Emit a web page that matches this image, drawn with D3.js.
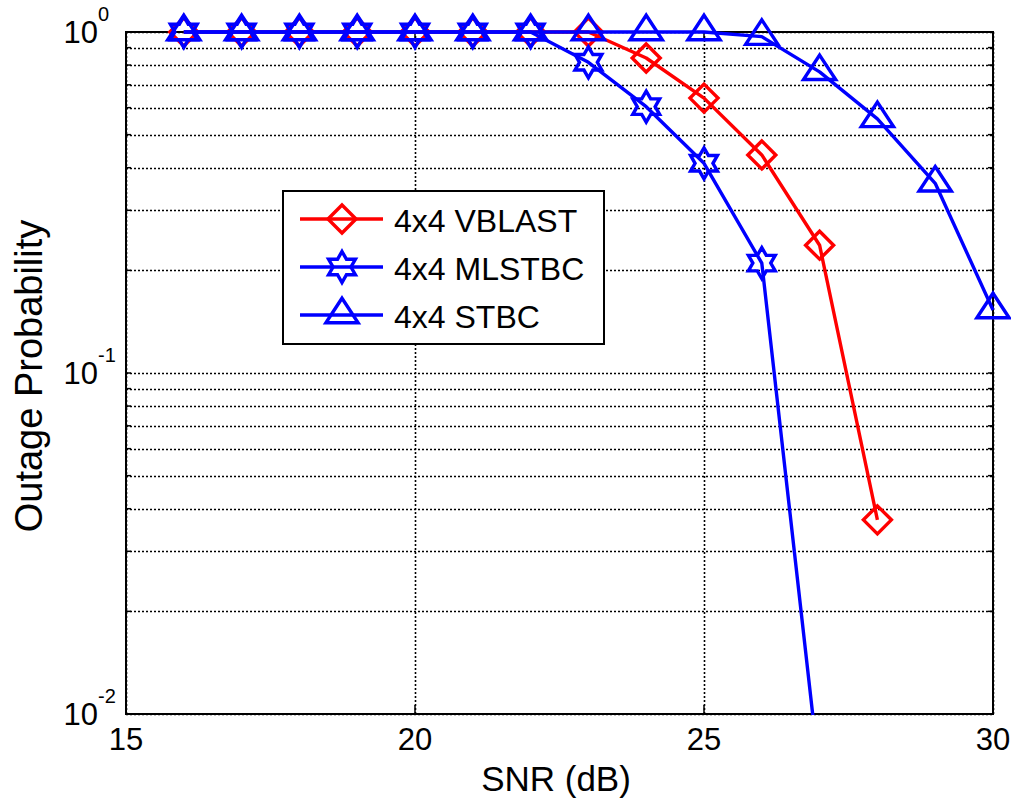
<!DOCTYPE html>
<html>
<head>
<meta charset="utf-8">
<script src="https://cdn.jsdelivr.net/npm/d3@7"></script>
<style>
  body { margin: 0; background: #fff; }
  text { font-family: "Liberation Sans", Arial, sans-serif; fill: #000; }
</style>
</head>
<body>
<script>
// values
var snrVblast = [16, 17, 18, 19, 20, 21, 22, 23, 24, 25, 26, 27, 28];
var vblast    = [1, 1, 1, 1, 1, 1, 1, 1, 0.839, 0.64, 0.436, 0.237, 0.0371];
var snrMlstbc = [16, 17, 18, 19, 20, 21, 22, 23, 24, 25, 26, 27];
var mlstbc    = [1, 1, 1, 1, 1, 1, 1, 0.815, 0.604, 0.412, 0.21, 0.0066];
var snrStbc   = [16, 17, 18, 19, 20, 21, 22, 23, 24, 25, 26, 27, 28, 29, 30];
var stbc      = [1, 1, 1, 1, 1, 1, 1, 1, 1, 1, 0.969, 0.764, 0.556, 0.36, 0.153];
var xTicks = [15, 20, 25, 30];
var yTicks = [1, 0.1, 0.01];
var yExp = ["0", "-1", "-2"];
var seriesNames = ["4x4 VBLAST", "4x4 MLSTBC", "4x4 STBC"];

var W = 1011, H = 802;
var margin = {top: 32, right: 18, bottom: 88, left: 126};
var width = W - margin.left - margin.right,
    height = H - margin.top - margin.bottom;

var svg = d3.select("body").append("svg")
    .attr("width", W)
    .attr("height", H);

var g = svg.append("g")
    .attr("transform", "translate(" + margin.left + "," + margin.top + ")");

var x = d3.scaleLinear().domain([15, 30]).range([0, width]);
var y = d3.scaleLog().domain([0.01, 1]).range([height, 0]);

// minor values for log grid
var minor = [];
[0.01, 0.1].forEach(function(d) {
  for (var k = 1; k <= 9; k++) minor.push(d * k);
});
minor.push(1);

// grid
g.append("g").selectAll("line").data(minor).enter().append("line")
    .attr("x1", 0).attr("x2", width)
    .attr("y1", function(d) { return Math.round(y(d)) + 0.5; })
    .attr("y2", function(d) { return Math.round(y(d)) + 0.5; })
    .attr("stroke", "#000").attr("stroke-width", 1.6)
    .attr("stroke-dasharray", "2,2");
g.append("g").selectAll("line").data(xTicks).enter().append("line")
    .attr("y1", 0).attr("y2", height)
    .attr("x1", function(d) { return Math.round(x(d)) + 0.5; })
    .attr("x2", function(d) { return Math.round(x(d)) + 0.5; })
    .attr("stroke", "#000").attr("stroke-width", 1.6)
    .attr("stroke-dasharray", "2,2");

// inner ticks
g.append("g").selectAll("line").data(minor).enter().append("line")
    .attr("x1", 0).attr("x2", 5)
    .attr("y1", function(d) { return y(d); }).attr("y2", function(d) { return y(d); })
    .attr("stroke", "#000").attr("stroke-width", 1.5);
g.append("g").selectAll("line").data(minor).enter().append("line")
    .attr("x1", width).attr("x2", width - 5)
    .attr("y1", function(d) { return y(d); }).attr("y2", function(d) { return y(d); })
    .attr("stroke", "#000").attr("stroke-width", 1.5);
g.append("g").selectAll("line").data(xTicks).enter().append("line")
    .attr("x1", function(d) { return x(d); }).attr("x2", function(d) { return x(d); })
    .attr("y1", height).attr("y2", height - 9)
    .attr("stroke", "#000").attr("stroke-width", 1.5);
g.append("g").selectAll("line").data(xTicks).enter().append("line")
    .attr("x1", function(d) { return x(d); }).attr("x2", function(d) { return x(d); })
    .attr("y1", 0).attr("y2", 9)
    .attr("stroke", "#000").attr("stroke-width", 1.5);

// tick labels
g.append("g").selectAll("text").data(xTicks).enter().append("text")
    .attr("x", function(d) { return x(d); })
    .attr("y", height + 36)
    .attr("text-anchor", "middle")
    .style("font-size", "31px")
    .text(function(d) { return d; });

var yl = g.append("g").selectAll("g").data(yTicks).enter().append("g")
    .attr("transform", function(d) { return "translate(0," + y(d) + ")"; });
yl.append("text")
    .attr("x", -28).attr("y", 11)
    .attr("text-anchor", "end")
    .style("font-size", "31px")
    .text("10");
yl.append("text")
    .attr("x", -28).attr("y", -11)
    .attr("text-anchor", "start")
    .style("font-size", "20px")
    .text(function(d, i) { return yExp[i]; });

// axis titles
svg.append("text")
    .attr("x", 556)
    .attr("y", 791)
    .attr("text-anchor", "middle")
    .style("font-size", "35px")
    .text("SNR (dB)");
svg.append("text")
    .attr("transform", "translate(42,376) rotate(-90)")
    .attr("text-anchor", "middle")
    .style("font-size", "38px")
    .text("Outage Probability");

// markers
function diamond(s) {
  return "M0," + (-s) + "L" + s + ",0L0," + s + "L" + (-s) + ",0Z";
}
function triangle(s) {
  return "M0," + (-s * 1.2) + "L" + (s * 1.15) + "," + (s * 0.55) + "L" + (-s * 1.15) + "," + (s * 0.55) + "Z";
}
function hexagram(s) {
  var pts = [];
  for (var i = 0; i < 12; i++) {
    var r = i % 2 === 0 ? s : s * 0.577;
    var a = -Math.PI / 2 + i * Math.PI / 6;
    pts.push([r * Math.cos(a), r * Math.sin(a)]);
  }
  return "M" + pts.map(function(p) { return p[0].toFixed(2) + "," + p[1].toFixed(2); }).join("L") + "Z";
}

var series = [
  {name: seriesNames[0], xs: snrVblast, ys: vblast, color: "#ff0000", marker: function() { return diamond(14); }},
  {name: seriesNames[1], xs: snrMlstbc, ys: mlstbc, color: "#0000ff", marker: function() { return hexagram(15.5); }},
  {name: seriesNames[2], xs: snrStbc, ys: stbc, color: "#0000ff", marker: function() { return triangle(14); }}
];

svg.append("defs").append("clipPath").attr("id", "clip")
  .append("rect").attr("x", -1).attr("y", -25).attr("width", width + 25).attr("height", height + 26);

var plot = g.append("g").attr("clip-path", "url(#clip)");
var line = d3.line()
    .x(function(d) { return x(d[0]); })
    .y(function(d) { return y(d[1]); });

series.forEach(function(s) {
  var pts = s.xs.map(function(v, i) { return [v, s.ys[i]]; });
  var sg = plot.append("g");
  sg.append("path")
      .attr("d", line(pts))
      .attr("fill", "none")
      .attr("stroke", s.color)
      .attr("stroke-width", 3.4)
      .attr("stroke-linejoin", "round");
  sg.selectAll(".m").data(pts.filter(function(p) { return p[1] >= 0.01; })).enter().append("path")
      .attr("class", "m")
      .attr("transform", function(p) { return "translate(" + x(p[0]) + "," + y(p[1]) + ")"; })
      .attr("d", s.marker())
      .attr("fill", "none")
      .attr("stroke", s.color)
      .attr("stroke-width", 3.4);
});

// frame
g.append("rect")
    .attr("width", width).attr("height", height)
    .attr("fill", "none").attr("stroke", "#000").attr("stroke-width", 2);

// redraw marks on top of the frame so markers on the edge stay visible
g.node().appendChild(plot.node());

// legend
var legX = 283 - margin.left, legY = 191 - margin.top;
var leg = g.append("g").attr("transform", "translate(" + legX + "," + legY + ")");
leg.append("rect")
    .attr("width", 321).attr("height", 153)
    .attr("fill", "#fff").attr("stroke", "#000").attr("stroke-width", 2);
var li = leg.selectAll(".li").data(series).enter().append("g")
    .attr("transform", function(d, i) { return "translate(0," + (28 + i * 48) + ")"; });
li.append("line")
    .attr("x1", 17).attr("x2", 100)
    .attr("stroke", function(d) { return d.color; })
    .attr("stroke-width", 3.4);
li.append("path")
    .attr("transform", "translate(59,0)")
    .attr("d", function(d) { return d.marker(); })
    .attr("fill", "none")
    .attr("stroke", function(d) { return d.color; })
    .attr("stroke-width", 3.4);
li.append("text")
    .attr("x", 111).attr("y", 13)
    .style("font-size", "32px")
    .text(function(d) { return d.name; });
</script>
</body>
</html>
